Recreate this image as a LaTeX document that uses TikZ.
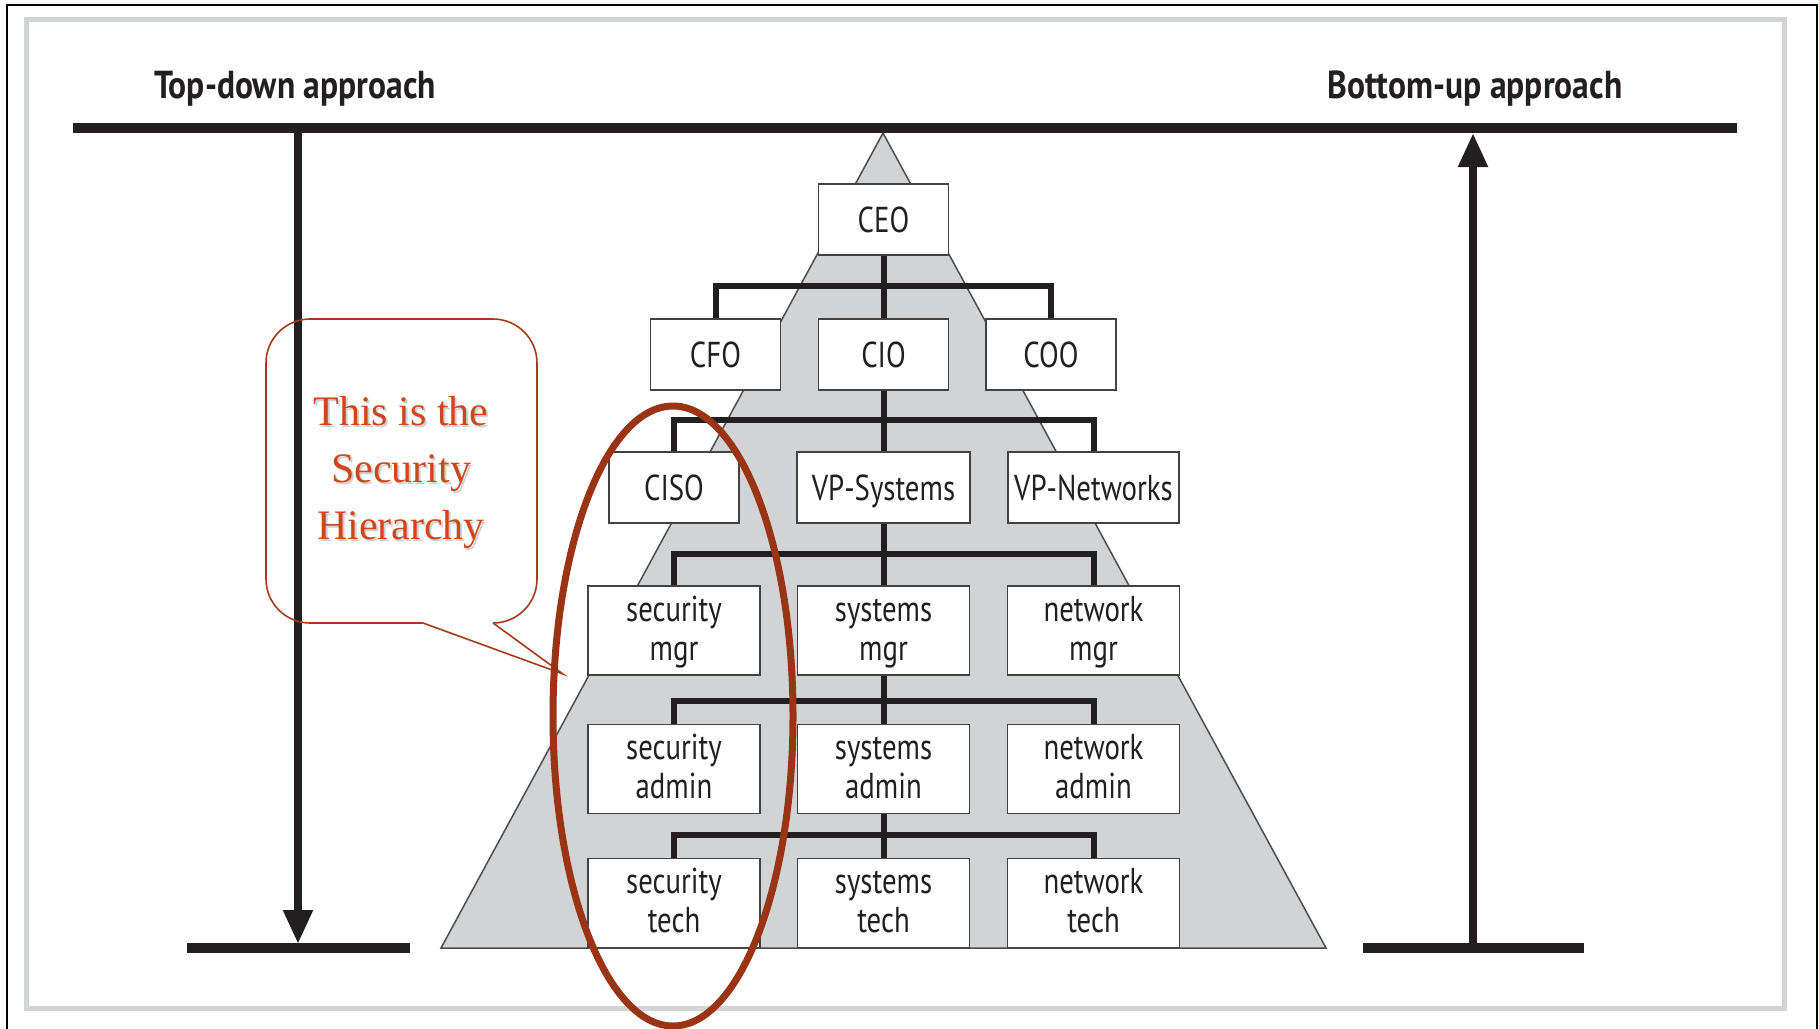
\documentclass[tikz,border=0pt]{standalone}
\usepackage{fontspec}
\newfontfamily\orgfont{PT Sans}[FakeStretch=0.8]
\newfontfamily\headfont{PT Sans Bold}[FakeStretch=0.86]
\newfontfamily\notefont{Liberation Serif}
\usetikzlibrary{arrows.meta}

% strut giving every line of a box the same height and depth
\newcommand{\orgstrut}{\rule[-8pt]{0pt}{36pt}}

\definecolor{ink}{HTML}{231F20}
\definecolor{pyrfill}{HTML}{D1D3D4}
\definecolor{pyredge}{HTML}{4D4D4F}
\definecolor{framegray}{HTML}{D3D4D6}
\definecolor{notered}{HTML}{D0461C}
\definecolor{noteedge}{HTML}{A33A1A}
\definecolor{ringred}{HTML}{9A3414}

\tikzset{
  orgbox/.style={draw=ink!85, line width=1.8pt, fill=white, inner sep=0pt,
    align=center, text=ink, font=\orgfont\fontsize{36}{39}\selectfont},
  wbox/.style={orgbox, minimum width=172pt, minimum height=89pt},
  onebox/.style={orgbox, text height=30pt, text depth=5pt, minimum height=71pt},
  nbox/.style={onebox, minimum width=130pt},
  conn/.style={draw=ink, line width=6pt, line join=miter},
  bar/.style={draw=ink, line width=9.5pt},
  bigarrow/.style={draw=ink, line width=8pt, -{Triangle[length=34pt,width=28pt]}},
  heading/.style={text=ink, font=\headfont\fontsize{39}{44}\selectfont, inner sep=0pt},
  callout/.style={draw=noteedge, line width=1.6pt},
  notetext/.style={align=center, font=\notefont\fontsize{42}{57}\selectfont, inner sep=0pt},
}

\begin{document}
\begin{tikzpicture}[x=1pt,y=-1pt]
\useasboundingbox (0,0) rectangle (1819,1028);

% page frames
\draw[line width=2pt, draw=black] (7,5) rectangle (1817,1040);
\draw[line width=5pt, draw=framegray] (26,19) rectangle (1784,1008);

% pyramid behind the chart
\filldraw[fill=pyrfill, draw=pyredge, line width=1.5pt, line join=miter]
  (883,133) -- (1326,948) -- (441,948) -- cycle;

% org chart boxes
\node[nbox] (ceo) at (883.5,219.5) {CEO};
\node[nbox] (cfo) at (715.5,354.5) {CFO};
\node[nbox] (cio) at (883.5,354.5) {CIO};
\node[nbox] (coo) at (1051,354.5) {COO};

\node[nbox] (ciso) at (674,487.5) {CISO};
\node[onebox, minimum width=173pt] (vpsys) at (883.5,487.5) {VP-Systems};
\node[onebox, minimum width=171pt] (vpnet) at (1093.5,487.5) {VP-Networks};

\node[wbox] (secmgr) at (674,630.5) {\orgstrut security\\\orgstrut mgr};
\node[wbox] (sysmgr) at (883.5,630.5) {\orgstrut systems\\\orgstrut mgr};
\node[wbox] (netmgr) at (1093.5,630.5) {\orgstrut network\\\orgstrut mgr};

\node[wbox] (secadm) at (674,769) {\orgstrut security\\\orgstrut admin};
\node[wbox] (sysadm) at (883.5,769) {\orgstrut systems\\\orgstrut admin};
\node[wbox] (netadm) at (1093.5,769) {\orgstrut network\\\orgstrut admin};

\node[wbox] (sectech) at (674,903) {\orgstrut security\\\orgstrut tech};
\node[wbox] (systech) at (883.5,903) {\orgstrut systems\\\orgstrut tech};
\node[wbox] (nettech) at (1093.5,903) {\orgstrut network\\\orgstrut tech};

% reporting lines
\draw[conn] (ceo.south) -- (cio.north);
\draw[conn] (cfo.north) -- ++(0,-32.5) -| (coo.north);
\draw[conn] (cio.south) -- (vpsys.north);
\draw[conn] (ciso.north) -- ++(0,-31.5) -| (vpnet.north);
\draw[conn] (vpsys.south) -- (sysmgr.north);
\draw[conn] (secmgr.north) -- ++(0,-31.5) -| (netmgr.north);
\draw[conn] (sysmgr.south) -- (sysadm.north);
\draw[conn] (secadm.north) -- ++(0,-23) -| (netadm.north);
\draw[conn] (sysadm.south) -- (systech.north);
\draw[conn] (sectech.north) -- ++(0,-23) -| (nettech.north);

% approach bars and arrows
\coordinate (topL) at (73,128);
\coordinate (topR) at (1737,128);
\coordinate (botLa) at (187,948);
\coordinate (botLb) at (410,948);
\coordinate (botRa) at (1363,948);
\coordinate (botRb) at (1584,948);
\coordinate (tdstart) at (298,128);
\coordinate (tdend) at (298,944);
\coordinate (bustart) at (1473,948);
\coordinate (buend) at (1473,133);

\draw[bar] (topL) -- (topR);
\draw[bar] (botLa) -- (botLb);
\draw[bar] (botRa) -- (botRb);
\draw[bigarrow] (tdstart) -- (tdend);
\draw[bigarrow] (bustart) -- (buend);

\node[heading, anchor=base] (tdlabel) at (295,98) {Top-down approach};
\node[heading, anchor=base] (bulabel) at (1475,98) {Bottom-up approach};

% speech bubble
\draw[callout, rounded corners=44pt] (423,623) -- (266,623) -- (266,319) -- (537,319) -- (537,623) -- (493,623);
\coordinate (pointer) at (563,674);
\draw[callout, line join=miter] (423,623) -- (pointer) -- (493,623);

\node[notetext, text=black!18] (noteshadow) at (403,474) {This is the\\Security\\Hierarchy};
\node[notetext, text=notered] (note) at (401,472) {This is the\\Security\\Hierarchy};

% ring around the security column
\draw[draw=ringred, line width=7pt] (673,716) ellipse [x radius=120, y radius=310];
\end{tikzpicture}
\end{document}
